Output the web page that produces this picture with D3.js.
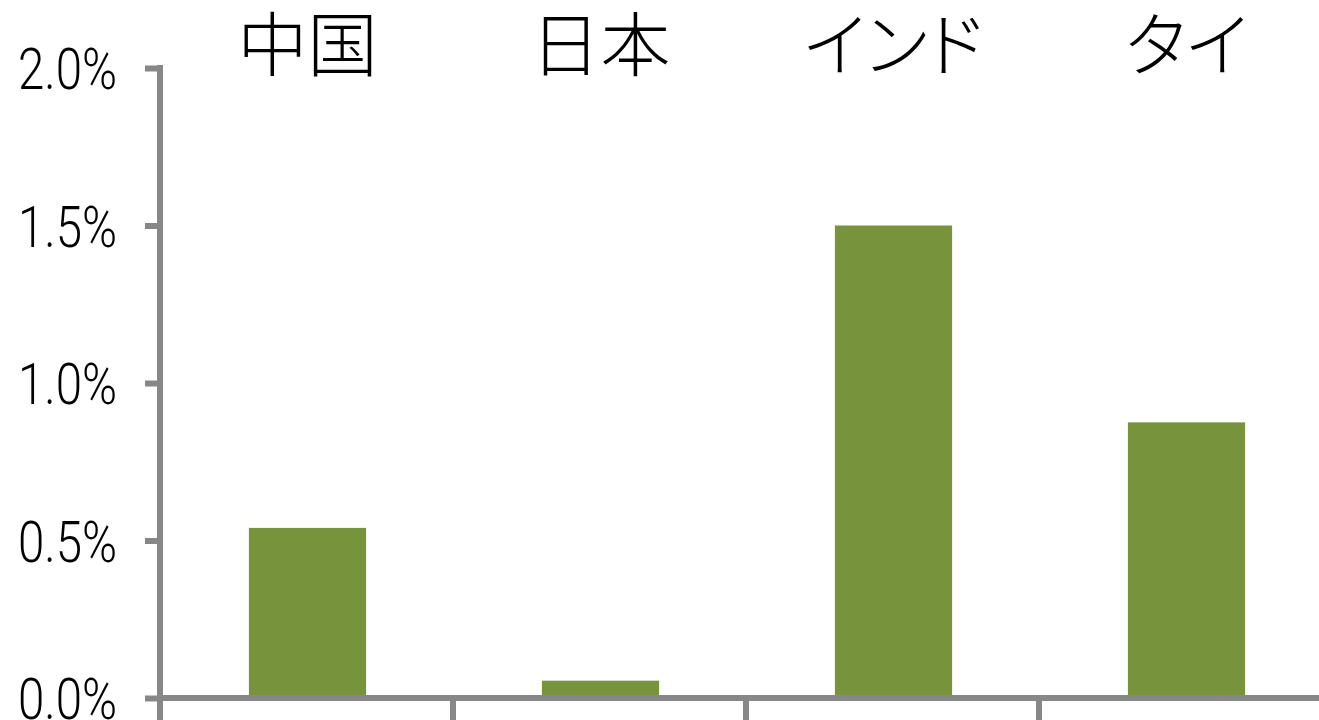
<!DOCTYPE html>
<html>
<head>
<meta charset="utf-8">
<script src="https://cdn.jsdelivr.net/npm/d3@7"></script>
<style>
  html, body { margin: 0; padding: 0; background: #fff; }
  svg { display: block; }
</style>
</head>
<body>
<svg id="chart" width="1319" height="720"></svg>
<script>
// Growth contribution by country
const categories = ["中国", "日本", "インド", "タイ"];
const values = [0.0054, 0.00055, 0.015, 0.00875];
const yTicks = [0, 0.005, 0.01, 0.015, 0.02];

const svg = d3.select("#chart");
const axisColor = "#878787";
const barColor = "#77933C";

const plotLeft = 160, bandW = 293, plotTop = 68, plotBottom = 698;

const x = d3.scaleBand()
  .domain(categories)
  .range([plotLeft, plotLeft + bandW * categories.length])
  .paddingInner(0.6)
  .paddingOuter(0.3);

const y = d3.scaleLinear().domain([0, 0.02]).range([plotBottom, plotTop]);

// bars
svg.append("g").selectAll("rect")
  .data(categories.map((c, i) => ({ c, v: values[i] })))
  .join("rect")
  .attr("x", d => x(d.c) + 1)
  .attr("width", x.bandwidth())
  .attr("y", d => y(d.v))
  .attr("height", d => y(0) - y(d.v))
  .attr("fill", barColor);

// y axis
const yAxis = svg.append("g")
  .attr("transform", `translate(${plotLeft},0)`)
  .call(d3.axisLeft(y).tickValues(yTicks).tickSize(15).tickPadding(28)
    .tickFormat(d3.format(".1%")));
yAxis.select(".domain").remove();
yAxis.selectAll(".tick line").attr("stroke", axisColor).attr("stroke-width", 6);
yAxis.append("line")
  .attr("x1", 0).attr("x2", 0)
  .attr("y1", plotTop - 3).attr("y2", plotBottom + 22)
  .attr("stroke", axisColor).attr("stroke-width", 6);
// narrow, light tick labels
yAxis.selectAll(".tick text")
  .attr("fill", "#000")
  .attr("dy", "0.36em")
  .attr("textLength", 99)
  .attr("lengthAdjust", "spacingAndGlyphs")
  .style("font-family", "Roboto, 'Liberation Sans', sans-serif")
  .style("font-size", "58px")
  .style("font-weight", "300");

// x axis along zero, with category boundary ticks
const boundaries = d3.range(categories.length).map(i => plotLeft + i * bandW);
const xAxis = svg.append("g");
xAxis.append("line")
  .attr("x1", plotLeft - 3).attr("x2", 1319)
  .attr("y1", y(0)).attr("y2", y(0))
  .attr("stroke", axisColor).attr("stroke-width", 6);
xAxis.selectAll("line.bt")
  .data(boundaries.slice(1))
  .join("line")
  .attr("class", "bt")
  .attr("x1", d => d).attr("x2", d => d)
  .attr("y1", y(0)).attr("y2", 720)
  .attr("stroke", axisColor).attr("stroke-width", 6);

// category labels above the plot
svg.append("g").selectAll("text")
  .data(categories)
  .join("text")
  .attr("x", d => x(d) + x.bandwidth() / 2 + 1)
  .attr("y", 40)
  .attr("text-anchor", "middle")
  .attr("dominant-baseline", "central")
  .style("font-family", "'Noto Sans CJK JP', sans-serif")
  .style("font-feature-settings", "'palt'")
  .style("font-size", "70px")
  .style("font-weight", "300")
  .attr("fill", "#000")
  .text(d => d);
</script>
</body>
</html>
